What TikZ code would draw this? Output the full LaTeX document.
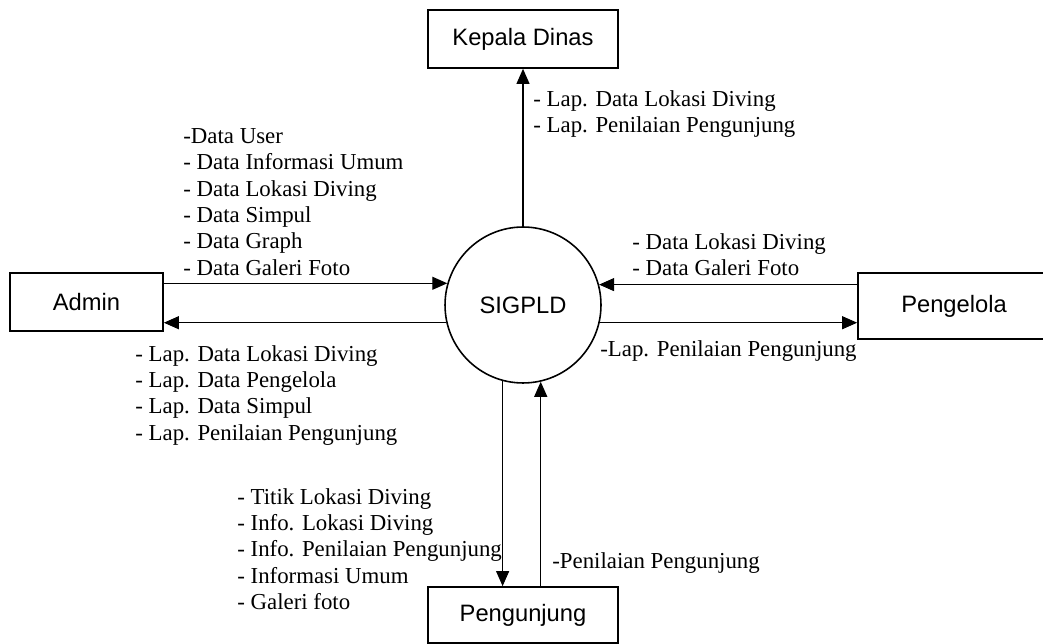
\documentclass[tikz,border=0pt]{standalone}
\usepackage{fontspec}
\setmainfont{Liberation Serif}
\newfontfamily\boxfont{Liberation Sans}
\usetikzlibrary{arrows.meta}

\begin{document}
\begin{tikzpicture}[x=0.02cm,y=-0.02cm,
    entity/.style={draw,line width=1pt,inner sep=0pt,minimum width=3.8cm,minimum height=1.16cm,font=\boxfont\fontsize{13.5}{16}\selectfont},
    proc/.style={draw,circle,line width=0.9pt,inner sep=0pt,minimum size=3.12cm,font=\boxfont\fontsize{13.5}{16}\selectfont},
    flow/.style={line width=0.6pt,-{Triangle[length=0.3cm,width=0.26cm]}},
    lbl/.style={anchor=north west,inner sep=0pt,align=left,font=\fontsize{13}{15}\selectfont}]
        \useasboundingbox (0,0) rectangle (1043,644);
        % entities and the process
        \node[proc] (sig) at (523,305) {SIGPLD};
        \node[entity] (kepala) at (523,39) {Kepala Dinas};
        \node[entity,minimum width=3.06cm] (admin) at (86.5,302) {Admin};
        \node[entity,minimum width=3.84cm,minimum height=1.32cm] (pengelola) at (954,306) {Pengelola};
        \node[entity,minimum height=1.12cm] (pengunjung) at (523,615) {Pengunjung};
        % flows
        \draw[flow] (sig) -- (kepala);
        \draw[flow] (admin.east |- sig.164) -- (sig.164);
        \draw[flow] (sig.193) -- (sig.193 -| admin.east);
        \draw[flow] (pengelola.west |- sig.15) -- (sig.15);
        \draw[flow] (sig.-13) -- (sig.-13 -| pengelola.west);
        \draw[flow] (sig.255) -- (sig.255 |- pengunjung.north);
        \draw[flow] (pengunjung.north -| sig.283) -- (sig.283);
        % labels
        \node[lbl] (lkepala) at (533,90) {- Lap. Data Lokasi Diving\\- Lap. Penilaian Pengunjung};
        \node[lbl] (ladminin) at (183,128) {-Data User\\- Data Informasi Umum\\- Data Lokasi Diving\\- Data Simpul\\- Data Graph\\- Data Galeri Foto};
        \node[lbl] (ladminout) at (135,345) {- Lap. Data Lokasi Diving\\- Lap. Data Pengelola\\- Lap. Data Simpul\\- Lap. Penilaian Pengunjung};
        \node[lbl] (lpengelolain) at (632,233) {- Data Lokasi Diving\\- Data Galeri Foto};
        \node[lbl] (lpengelolaout) at (600,340) {-Lap. Penilaian Pengunjung};
        \node[lbl] (lpengunjungin) at (237,488) {- Titik Lokasi Diving\\- Info. Lokasi Diving\\- Info. Penilaian Pengunjung\\- Informasi Umum\\- Galeri foto};
        \node[lbl] (lpengunjungout) at (552,552) {-Penilaian Pengunjung};
\end{tikzpicture}
\end{document}
